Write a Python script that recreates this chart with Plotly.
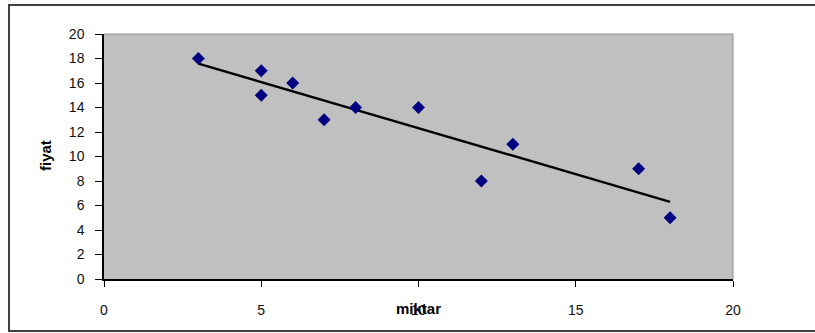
import numpy as np
import plotly.graph_objects as go

miktar = [3, 5, 5, 6, 7, 8, 10, 12, 13, 17, 18]
fiyat = [18, 17, 15, 16, 13, 14, 14, 8, 11, 9, 5]
x_ticks = [0, 5, 10, 15, 20]
y_ticks = [0, 2, 4, 6, 8, 10, 12, 14, 16, 18, 20]

slope, intercept = np.polyfit(miktar, fiyat, 1)
trend_x = [min(miktar), max(miktar)]
trend_y = [slope * v + intercept for v in trend_x]

FONT = "Liberation Sans, Arial, sans-serif"

fig = go.Figure()
fig.add_trace(go.Scatter(x=trend_x, y=trend_y, mode="lines",
                         line=dict(color="black", width=2.4), hoverinfo="skip"))
fig.add_trace(go.Scatter(x=miktar, y=fiyat, mode="markers",
                         marker=dict(symbol="diamond", size=10, color="#000080",
                                     line=dict(width=0))))

L, R, T, B = 104, 82, 34, 54
W, H = 815, 333
pw, ph = W - L - R, H - T - B

def px(x):
    return (x - L) / pw

def py(y):
    return (H - B - y) / ph

fig.update_layout(
    width=W, height=H,
    margin=dict(l=L, r=R, t=T, b=B, pad=0),
    paper_bgcolor="white",
    plot_bgcolor="#C0C0C0",
    showlegend=False,
    font=dict(family=FONT, size=14, color="black"),
    xaxis=dict(range=[0, 20], tickvals=x_ticks, ticktext=[str(v) for v in x_ticks],
               showgrid=False, zeroline=False, showline=True, linecolor="black",
               linewidth=1.5, ticks="outside", ticklen=6, tickcolor="black",
               tickwidth=1, ticklabelstandoff=11, mirror=False,
               tickfont=dict(family=FONT, size=14, color="#111111")),
    yaxis=dict(range=[0, 20], tickvals=y_ticks, ticktext=[str(v) for v in y_ticks],
               showgrid=False, zeroline=False, showline=True, linecolor="black",
               linewidth=1.5, ticks="outside", ticklen=7, tickcolor="black",
               tickwidth=1, ticklabelstandoff=8,
               tickfont=dict(family=FONT, size=14, color="#111111")),
    shapes=[
        dict(type="line", xref="paper", yref="paper", x0=0, x1=1, y0=1, y1=1,
             line=dict(color="#909090", width=1)),
        dict(type="line", xref="paper", yref="paper", x0=1, x1=1, y0=0, y1=1,
             line=dict(color="#909090", width=1)),
        dict(type="rect", xref="paper", yref="paper",
             x0=px(9), x1=px(830), y0=py(331), y1=py(5),
             line=dict(color="#404040", width=2), fillcolor="rgba(0,0,0,0)",
             layer="below"),
    ],
    annotations=[
        dict(text="<b>miktar</b>", xref="paper", yref="paper", x=0.5, y=py(308),
             showarrow=False, xanchor="center", yanchor="middle",
             font=dict(family=FONT, size=15, color="black")),
        dict(text="<b>fiyat</b>", xref="paper", yref="paper", x=px(45), y=py(156),
             showarrow=False, xanchor="center", yanchor="middle", textangle=-90,
             font=dict(family=FONT, size=15, color="black")),
    ],
)

fig.write_html("out.html")
